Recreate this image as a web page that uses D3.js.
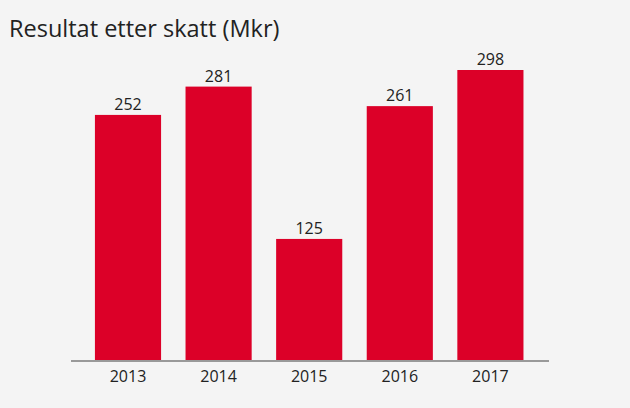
<!DOCTYPE html>
<html>
<head>
<meta charset="utf-8">
<script src="https://cdn.jsdelivr.net/npm/d3@7"></script>
<style>
  html, body { margin: 0; padding: 0; background: #f4f4f4; }
  svg { display: block; }
  text { font-family: "Open Sans", sans-serif; fill: #222; }
</style>
</head>
<body>
<svg id="chart" width="630" height="408"></svg>
<script>
const title = "Resultat etter skatt (Mkr)";
const years = ["2013", "2014", "2015", "2016", "2017"];
const values = [252, 281, 125, 261, 298];

const svg = d3.select("#chart");
svg.append("rect").attr("width", 630).attr("height", 408).attr("fill", "#f4f4f4");

svg.append("text")
  .attr("x", 9).attr("y", 37)
  .style("font-size", "23.5px")
  .text(title);

const x = d3.scaleBand().domain(years).range([82.7, 535.7]).paddingInner(0.27).paddingOuter(0.135);
const y = d3.scaleLinear().domain([0, 298]).range([361, 70]);

svg.selectAll("rect.bar").data(values).join("rect")
  .attr("class", "bar")
  .attr("x", (d, i) => x(years[i]))
  .attr("y", d => y(d))
  .attr("width", x.bandwidth())
  .attr("height", d => y(0) - y(d))
  .attr("fill", "#dc0028");

svg.selectAll("text.val").data(values).join("text")
  .attr("class", "val")
  .attr("x", (d, i) => x(years[i]) + x.bandwidth() / 2)
  .attr("y", d => y(d) - 5)
  .attr("text-anchor", "middle")
  .style("font-size", "16px")
  .text(d => d);

const axis = d3.axisBottom(x).tickSize(0).tickPadding(10);
const g = svg.append("g").attr("transform", `translate(0,${y(0)})`).call(axis);
g.select(".domain").remove();
g.selectAll("text").style("font-size", "16px").style("font-family", "'Open Sans', sans-serif").attr("fill", "#222").attr("dy", "0.71em");

svg.append("line")
  .attr("x1", 71).attr("x2", 549)
  .attr("y1", y(0)).attr("y2", y(0))
  .attr("stroke", "#999").attr("stroke-width", 2);
</script>
</body>
</html>
